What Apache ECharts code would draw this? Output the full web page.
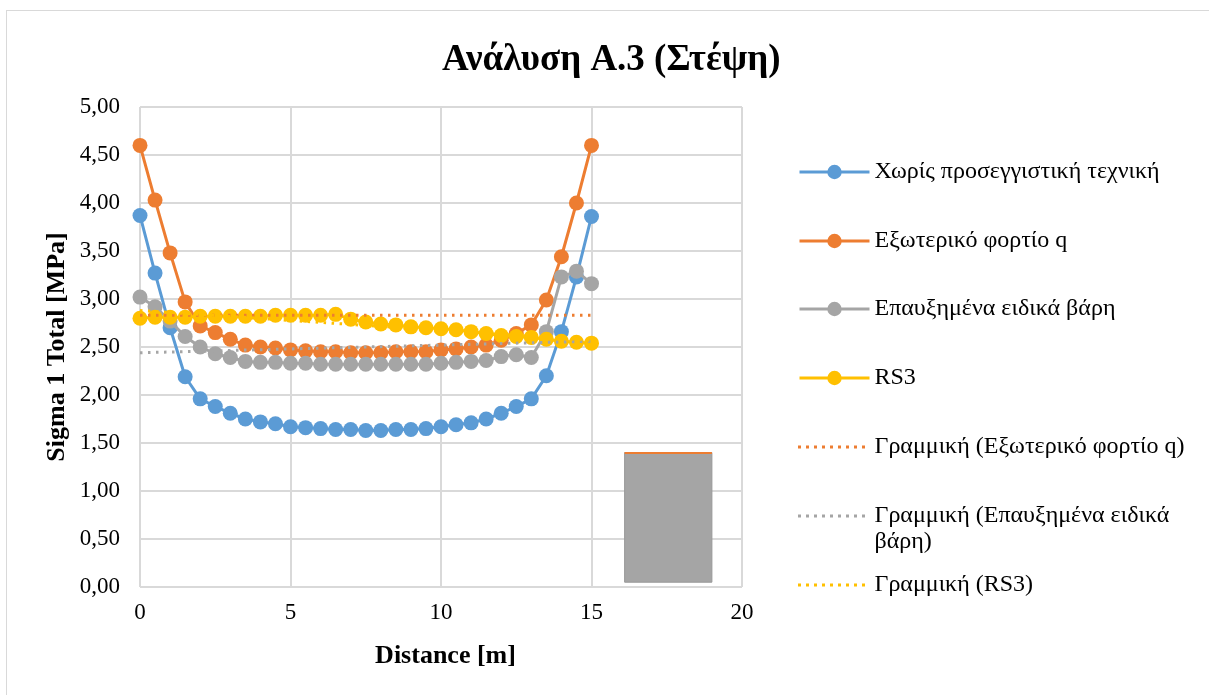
<!DOCTYPE html>
<html lang="el">
<head>
    <meta charset="utf-8">
    <title>Ανάλυση Α.3 (Στέψη)</title>
    <script src="https://cdn.jsdelivr.net/npm/echarts@6/dist/echarts.min.js"></script>
    <style>
        body { margin: 0; background: #fff; }
        #main { width: 1209px; height: 695px; }
        #frame { position: absolute; left: 6px; top: 10px; width: 1300px; height: 800px;
                 border: 1px solid #d9d9d9; pointer-events: none; }
    </style>
</head>
<body>
<div id="main"></div>
<div id="frame"></div>

<script type="text/javascript">

    // distance along the section [m]
    var distance = [0, 0.5, 1, 1.5, 2, 2.5, 3, 3.5, 4, 4.5, 5, 5.5, 6, 6.5, 7, 7.5,
                    8, 8.5, 9, 9.5, 10, 10.5, 11, 11.5, 12, 12.5, 13, 13.5, 14, 14.5, 15];

    // Sigma 1 Total [MPa]
    var noTechnique = [3.87, 3.27, 2.70, 2.19, 1.96, 1.88, 1.81, 1.75, 1.72, 1.70, 1.67, 1.66, 1.65, 1.64, 1.64, 1.63,
                       1.63, 1.64, 1.64, 1.65, 1.67, 1.69, 1.71, 1.75, 1.81, 1.88, 1.96, 2.20, 2.66, 3.23, 3.86];
    var externalLoad = [4.60, 4.03, 3.48, 2.97, 2.72, 2.65, 2.58, 2.52, 2.50, 2.49, 2.47, 2.46, 2.45, 2.45, 2.44, 2.44,
                        2.44, 2.45, 2.45, 2.45, 2.47, 2.48, 2.50, 2.52, 2.57, 2.64, 2.73, 2.99, 3.44, 4.00, 4.60];
    var increasedWeights = [3.02, 2.92, 2.77, 2.61, 2.50, 2.43, 2.39, 2.35, 2.34, 2.34, 2.33, 2.33, 2.32, 2.32, 2.32, 2.32,
                            2.32, 2.32, 2.32, 2.32, 2.33, 2.34, 2.35, 2.36, 2.40, 2.42, 2.39, 2.66, 3.23, 3.29, 3.16];
    var rs3 = [2.80, 2.81, 2.81, 2.81, 2.82, 2.82, 2.82, 2.82, 2.82, 2.83, 2.83, 2.83, 2.83, 2.84, 2.79, 2.76,
               2.74, 2.73, 2.71, 2.70, 2.69, 2.68, 2.66, 2.64, 2.62, 2.61, 2.60, 2.58, 2.56, 2.55, 2.54];

    // linear trend lines (start / end)
    var trendX = [0, 15];
    var trendExternal = [2.83, 2.83];
    var trendWeights = [2.44, 2.56];
    var trendRs3 = [2.88, 2.57];

    // stray grey box in the plot (data coords)
    var boxX = [16.1, 19.0];
    var boxY = [0.05, 1.40];

    var xTicks = [0, 20, 5];      // min, max, step
    var yTicks = [0, 5, 0.5];

    var names = ['Χωρίς προσεγγιστική τεχνική', 'Εξωτερικό φορτίο q', 'Επαυξημένα ειδικά βάρη', 'RS3',
                 'Γραμμική (Εξωτερικό φορτίο q)', 'Γραμμική (Επαυξημένα ειδικά βάρη)', 'Γραμμική (RS3)'];
    var colors = ['#5B9BD5', '#ED7D31', '#A5A5A5', '#FFC000', '#ED7D31', '#A5A5A5', '#FFC000'];

    var serif = "'Liberation Serif', 'Times New Roman', serif";

    // dotted legend icon for the trend lines
    var dots = '';
    for (var d = 0; d < 9; d++) dots += 'M' + (d * 8) + ',0h3v3h-3z';
    var dotIcon = 'path://' + dots;

    function pairs(xs, ys) {
        return xs.map(function (x, i) { return [x, ys[i]]; });
    }

    function markerSeries(i, ys) {
        return {
            name: names[i],
            type: 'line',
            data: pairs(distance, ys),
            symbol: 'circle',
            symbolSize: 15,
            lineStyle: { width: 3, color: colors[i] },
            itemStyle: { color: colors[i] },
            z: 2 + i
        };
    }

    function trendSeries(i, ys) {
        return {
            name: names[i],
            type: 'line',
            data: pairs(trendX, ys),
            symbol: 'none',
            lineStyle: { width: 3, color: colors[i], type: [2.5, 5.5] },
            itemStyle: { color: colors[i] },
            z: 10
        };
    }

    var series = [
        markerSeries(0, noTechnique),
        markerSeries(1, externalLoad),
        markerSeries(2, increasedWeights),
        markerSeries(3, rs3),
        trendSeries(4, trendExternal),
        trendSeries(5, trendWeights),
        trendSeries(6, trendRs3)
    ];

    // the box and its orange top edge
    series[2].markArea = {
        silent: true,
        itemStyle: { color: '#A5A5A5', borderColor: '#999', borderWidth: 1 },
        data: [[{ coord: [boxX[0], boxY[0]] }, { coord: [boxX[1], boxY[1]] }]]
    };
    series[1].markLine = {
        silent: true,
        symbol: 'none',
        label: { show: false },
        lineStyle: { color: '#ED7D31', width: 2, type: 'solid' },
        data: [[{ coord: [boxX[0], boxY[1]] }, { coord: [boxX[1], boxY[1]] }]]
    };

    // one legend per entry so the spacing follows the picture
    var legendCentres = [172, 241, 309, 378, 447, 516, 585];
    var legends = names.map(function (n, i) {
        var multi = (i === 5);
        var trend = (i >= 4);
        return {
            data: [trend ? { name: n, icon: dotIcon } : n],
            left: 798,
            top: legendCentres[i] - (multi ? 39 : 13),
            orient: 'vertical',
            padding: 0,
            itemWidth: 70,
            itemHeight: trend ? 3 : 18,
            selectedMode: false,
            lineStyle: { width: 3 },
            formatter: multi ? function () { return ' \nΓραμμική (Επαυξημένα ειδικά\nβάρη)'; } : '{name}',
            textStyle: {
                fontFamily: serif, fontSize: 24, color: '#000', lineHeight: 26,
                padding: trend ? [0, 0, 0, 3] : 0
            }
        };
    });

    var myChart = echarts.init(document.getElementById('main'));

    myChart.setOption({
        animation: false,
        title: {
            text: 'Ανάλυση Α.3 (Στέψη)',
            left: 437,
            top: 37,
            textStyle: { fontFamily: serif, fontSize: 37, fontWeight: 'bold', color: '#000' }
        },
        legend: legends,
        grid: { left: 140, right: 467, top: 107, bottom: 108 },
        xAxis: {
            type: 'value',
            min: xTicks[0], max: xTicks[1], interval: xTicks[2],
            name: 'Distance [m]',
            nameLocation: 'middle',
            nameGap: 56,
            nameTextStyle: {
                fontFamily: serif, fontSize: 26, fontWeight: 'bold', color: '#000',
                padding: [0, 0, 0, 9]
            },
            axisLine: { show: false },
            axisTick: { show: false },
            axisLabel: { fontFamily: serif, fontSize: 23, color: '#000', margin: 14 },
            splitLine: { show: true, lineStyle: { color: '#d9d9d9', width: 2 } }
        },
        yAxis: {
            type: 'value',
            min: yTicks[0], max: yTicks[1], interval: yTicks[2],
            name: 'Sigma 1 Total [MPa]',
            nameLocation: 'middle',
            nameGap: 70,
            nameTextStyle: { fontFamily: serif, fontSize: 26, fontWeight: 'bold', color: '#000' },
            axisLine: { show: false },
            axisTick: { show: false },
            axisLabel: {
                fontFamily: serif, fontSize: 23, color: '#000', margin: 20,
                formatter: function (v) { return v.toFixed(2).replace('.', ','); }
            },
            splitLine: { show: true, lineStyle: { color: '#d9d9d9', width: 2 } }
        },
        series: series
    });

</script>
</body>
</html>
